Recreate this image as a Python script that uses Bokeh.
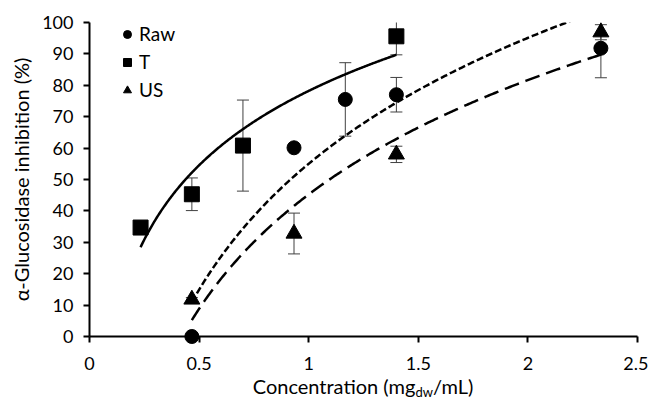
import numpy as np
from bokeh.plotting import figure
from bokeh.layouts import column
from bokeh.models import (ColumnDataSource, Whisker, Legend, LegendItem, Div,
                          Range1d, FixedTicker, TeeHead)
from bokeh.embed import file_html
from bokeh.resources import INLINE

# ---- data ----
raw_x = [0.467, 0.933, 1.167, 1.400, 2.333]
raw_y = [0.0, 60.1, 75.5, 77.0, 91.8]
raw_err = [0.0, 0.0, 11.7, 5.5, 9.4]

t_x = [0.233, 0.467, 0.700, 1.400]
t_y = [34.7, 45.3, 60.8, 95.6]
t_err = [0.6, 5.2, 14.5, 5.9]

us_x = [0.467, 0.933, 1.400, 2.333]
us_y = [11.8, 32.8, 58.0, 96.9]
us_err = [0.6, 6.5, 2.6, 2.4]

x_ticks = [0, 0.5, 1, 1.5, 2, 2.5]
y_ticks = [0, 10, 20, 30, 40, 50, 60, 70, 80, 90, 100]
series_names = ["Raw", "T", "US"]
y_title = "α-Glucosidase inhibition (%)"
x_title = ("Concentration (mg", "dw", "/mL)")

FONT = "Lato"
ERR_COLOR = "#404040"

p = figure(width=648, height=380, output_backend="svg", toolbar_location=None,
           x_range=Range1d(0, 2.5), y_range=Range1d(0, 100),
           min_border_left=89, min_border_right=11, min_border_top=22,
           min_border_bottom=44)
p.xgrid.visible = False
p.ygrid.visible = False
p.outline_line_color = None
p.background_fill_color = "white"
p.border_fill_color = "white"


def log_trend(xs, ys):
    a, b = np.polyfit(np.log(xs), ys, 1)
    xx = np.linspace(min(xs), max(xs), 300)
    return xx, a * np.log(xx) + b


def errbars(xs, ys, es):
    src = ColumnDataSource(dict(x=xs, lo=[y - e for y, e in zip(ys, es)],
                                hi=[y + e for y, e in zip(ys, es)]))
    w = Whisker(source=src, base="x", lower="lo", upper="hi",
                line_color=ERR_COLOR, line_width=1,
                upper_head=TeeHead(size=12, line_color=ERR_COLOR, line_width=1),
                lower_head=TeeHead(size=12, line_color=ERR_COLOR, line_width=1))
    p.add_layout(w)


errbars(raw_x, raw_y, raw_err)
errbars(t_x, t_y, t_err)
errbars(us_x, us_y, us_err)

# trend lines (logarithmic fits of each series)
tx, ty = log_trend(t_x, t_y)
p.line(tx, ty, line_color="black", line_width=2.5)
rx, ry = log_trend(raw_x, raw_y)
p.line(rx, ry, line_color="black", line_width=2.5, line_dash="7 3")
ux, uy = log_trend(us_x, us_y)
p.line(ux, uy, line_color="black", line_width=2.5, line_dash="15 7")

r_raw = p.scatter(raw_x, raw_y, marker="circle", size=14, color="black", level="overlay")
r_t = p.scatter(t_x, t_y, marker="square", size=15, color="black", level="overlay")
r_us = p.scatter(us_x, us_y, marker="triangle", size=16, color="black", level="overlay")

legend = Legend(items=[LegendItem(label=series_names[0], renderers=[r_raw]),
                       LegendItem(label=series_names[1], renderers=[r_t]),
                       LegendItem(label=series_names[2], renderers=[r_us])],
                location=(28, 235), orientation="vertical",
                glyph_width=20, glyph_height=22, label_height=22,
                spacing=5, padding=0, margin=0, label_standoff=2,
                border_line_color=None, background_fill_alpha=0,
                label_text_font=FONT, label_text_font_size="19px",
                label_text_color="black")
p.add_layout(legend)

# axes styling
for ax in (p.xaxis[0], p.yaxis[0]):
    ax.axis_line_color = "black"
    ax.axis_line_width = 2
    ax.major_tick_line_color = "black"
    ax.major_tick_line_width = 2
    ax.major_tick_in = 0
    ax.major_tick_out = 6
    ax.minor_tick_line_color = None
    ax.major_label_text_font = FONT
    ax.major_label_text_font_size = "18px"
    ax.major_label_text_color = "black"

p.xaxis.ticker = FixedTicker(ticks=x_ticks)
p.yaxis.ticker = FixedTicker(ticks=y_ticks)
p.xaxis.major_label_overrides = {0: "0", 0.5: "0.5", 1: "1", 1.5: "1.5", 2: "2", 2.5: "2.5"}
p.xaxis.major_label_standoff = 14
p.yaxis.major_label_standoff = 10

p.yaxis.axis_label = y_title
p.yaxis.axis_label_text_font = FONT
p.yaxis.axis_label_text_font_size = "20px"
p.yaxis.axis_label_text_font_style = "normal"
p.yaxis.axis_label_text_color = "black"
p.yaxis.axis_label_standoff = 6

# x axis title with a real subscript, as HTML text below the figure
html = (
    '<div style="width:648px; box-sizing:border-box; padding-left:78px; '
    'text-align:center; white-space:nowrap; margin-top:-4px; '
    f'font-family:{FONT}; font-size:20px; line-height:20px; color:black;">'
    f'{x_title[0]}<span style="font-size:13px; position:relative; top:3px;">'
    f'{x_title[1]}</span>{x_title[2]}</div>'
)
xlab = Div(text=html, width=648, height=23, margin=0,
           styles={"overflow": "visible"})

layout = column(p, xlab, spacing=0)

open("out.html", "w").write(file_html(layout, INLINE))
